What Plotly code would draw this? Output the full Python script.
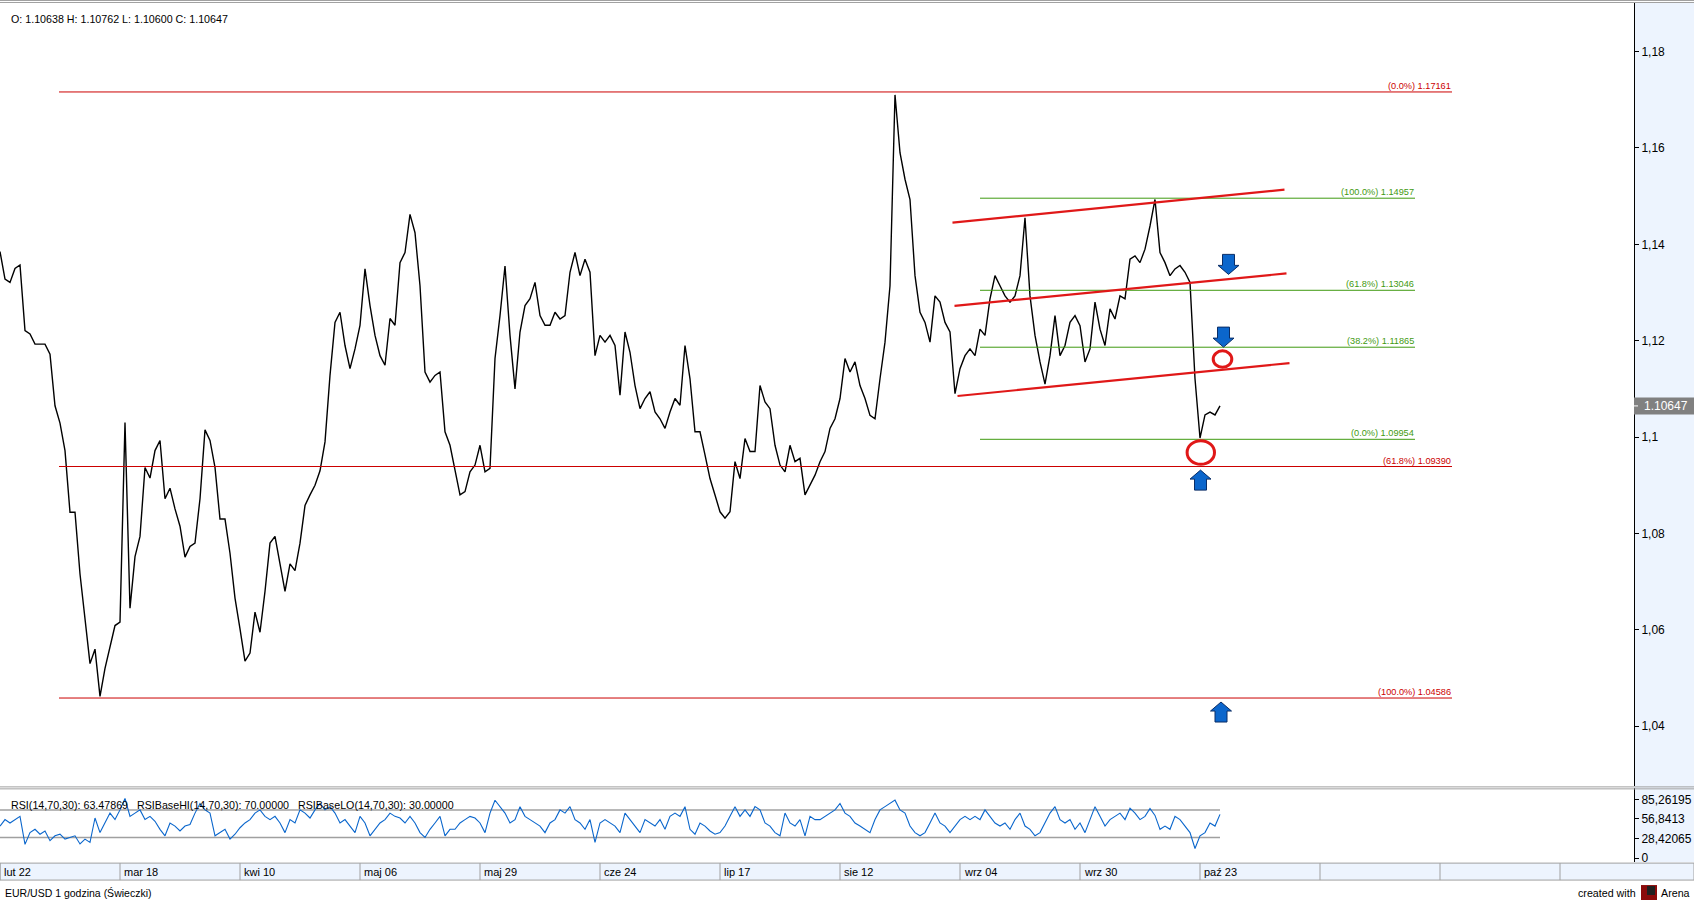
import plotly.graph_objects as go

# EUR/USD hourly, sampled every 5 px of the original chart (one value per sample)
PRICE = [
    1.1385, 1.1328, 1.1321, 1.1350, 1.1357, 1.1221, 1.1214, 1.1193, 1.1193, 1.1193,
    1.1172, 1.1065, 1.1029, 1.0972, 1.0844, 1.0844, 1.0716, 1.0623, 1.0530, 1.0560,
    1.0462, 1.0520, 1.0566, 1.0609, 1.0616, 1.1030, 1.0645, 1.0752, 1.0794, 1.0937,
    1.0915, 1.0972, 1.0993, 1.0872, 1.0894, 1.0851, 1.0815, 1.0751, 1.0773, 1.0780,
    1.0872, 1.1015, 1.0993, 1.0937, 1.0830, 1.0830, 1.0759, 1.0666, 1.0602, 1.0535,
    1.0552, 1.0637, 1.0595, 1.0680, 1.0780, 1.0794, 1.0737, 1.0680, 1.0737, 1.0723,
    1.0780, 1.0858, 1.0880, 1.0900, 1.0930, 1.0990, 1.1128, 1.1238, 1.1259, 1.1190,
    1.1142, 1.1183, 1.1232, 1.1349, 1.1273, 1.1211, 1.1169, 1.1149, 1.1246, 1.1232,
    1.1362, 1.1383, 1.1462, 1.1424, 1.1314, 1.1135, 1.1114, 1.1128, 1.1135, 1.1011,
    1.0983, 1.0935, 1.0880, 1.0887, 1.0928, 1.0942, 1.0983, 1.0928, 1.0935, 1.1163,
    1.1252, 1.1355, 1.1211, 1.1100, 1.1218, 1.1273, 1.1287, 1.1321, 1.1252, 1.1232,
    1.1232, 1.1259, 1.1245, 1.1252, 1.1342, 1.1383, 1.1335, 1.1369, 1.1342, 1.1169,
    1.1211, 1.1197, 1.1211, 1.1190, 1.1087, 1.1218, 1.1176, 1.1107, 1.1059, 1.1080,
    1.1094, 1.1052, 1.1038, 1.1018, 1.1052, 1.1080, 1.1066, 1.1190, 1.1121, 1.1011,
    1.1011, 1.0963, 1.0914, 1.0880, 1.0845, 1.0832, 1.0845, 1.0949, 1.0914, 1.0997,
    1.0970, 1.0970, 1.1107, 1.1073, 1.1059, 1.0983, 1.0942, 1.0928, 1.0983, 1.0949,
    1.0956, 1.0880, 1.0901, 1.0921, 1.0949, 1.0970, 1.1018, 1.1038, 1.1080, 1.1163,
    1.1135, 1.1156, 1.1107, 1.1080, 1.1045, 1.1038, 1.1121, 1.1197, 1.1314, 1.1710,
    1.1590, 1.1535, 1.1493, 1.1335, 1.1259, 1.1238, 1.1197, 1.1293, 1.1280, 1.1238,
    1.1218, 1.1090, 1.1142, 1.1169, 1.1183, 1.1169, 1.1224, 1.1211, 1.1287, 1.1335,
    1.1314, 1.1293, 1.1280, 1.1293, 1.1335, 1.1455, 1.1293, 1.1211, 1.1156, 1.1110,
    1.1169, 1.1252, 1.1169, 1.1190, 1.1238, 1.1252, 1.1231, 1.1156, 1.1183, 1.1280,
    1.1224, 1.1190, 1.1266, 1.1245, 1.1293, 1.1287, 1.1369, 1.1376, 1.1362, 1.1390,
    1.1438, 1.1493, 1.1383, 1.1362, 1.1335, 1.1349, 1.1356, 1.1342, 1.1321, 1.1121,
    1.0998, 1.1046, 1.1052, 1.1046, 1.10647,
]

RSI = [
    46.5, 55.9, 51.0, 56.0, 60.6, 20.0, 37.0, 41.8, 34.7, 39.4,
    25.3, 32.4, 34.7, 27.6, 30.0, 32.4, 20.6, 27.6, 22.9, 58.2,
    37.0, 51.0, 65.3, 55.9, 70.0, 86.5, 60.6, 65.3, 70.0, 56.0,
    60.6, 53.5, 41.8, 32.4, 51.0, 46.5, 39.4, 46.5, 48.8, 65.3,
    79.4, 70.0, 65.3, 32.4, 37.0, 41.8, 27.6, 34.7, 44.1, 51.0,
    55.9, 65.3, 70.0, 60.6, 55.9, 60.6, 51.0, 37.0, 55.9, 51.0,
    70.0, 65.3, 58.2, 70.0, 79.4, 70.0, 74.7, 65.3, 51.0, 55.9,
    46.5, 37.0, 60.6, 51.0, 32.4, 41.8, 51.0, 55.9, 65.3, 60.6,
    58.2, 51.0, 60.6, 51.0, 37.0, 30.0, 41.8, 51.0, 60.6, 32.4,
    41.8, 41.8, 51.0, 55.9, 60.6, 58.2, 51.0, 37.0, 65.3, 84.0,
    74.7, 65.3, 51.0, 55.9, 74.7, 60.6, 55.9, 51.0, 46.5, 37.0,
    51.0, 55.9, 70.0, 65.3, 74.7, 55.9, 51.0, 41.8, 55.9, 22.9,
    51.0, 55.9, 51.0, 46.5, 37.0, 65.3, 55.9, 46.5, 37.0, 55.9,
    51.0, 46.5, 55.9, 41.8, 60.6, 65.3, 60.6, 74.7, 41.8, 34.7,
    51.0, 46.5, 39.4, 34.7, 37.0, 46.5, 60.6, 74.7, 60.6, 70.0,
    60.6, 74.7, 70.0, 51.0, 46.5, 37.0, 32.4, 65.3, 51.0, 46.5,
    55.9, 32.4, 60.6, 55.9, 55.9, 60.6, 65.3, 70.0, 79.4, 65.3,
    60.6, 51.0, 46.5, 41.8, 37.0, 55.9, 70.0, 74.7, 79.4, 84.1,
    70.0, 65.3, 46.5, 37.0, 32.4, 37.0, 51.0, 65.3, 51.0, 46.5,
    37.0, 46.5, 55.9, 60.6, 55.9, 60.6, 55.9, 70.0, 60.6, 51.0,
    46.5, 51.0, 41.8, 55.9, 65.3, 46.5, 41.8, 32.4, 37.0, 51.0,
    65.3, 74.7, 55.9, 51.0, 55.9, 41.8, 51.0, 37.0, 55.9, 74.7,
    60.6, 46.5, 55.9, 60.6, 65.3, 55.9, 72.4, 65.3, 55.9, 60.6,
    72.0, 62.0, 41.8, 46.5, 41.8, 60.6, 55.9, 46.5, 37.0, 14.0,
    32.4, 37.0, 51.0, 46.5, 63.5,
]

RSI_HI = 70
RSI_LO = 30

DATE_LABELS = ["lut 22", "mar 18", "kwi 10", "maj 06", "maj 29", "cze 24",
               "lip 17", "sie 12", "wrz 04", "wrz 30", "paź 23"]
SAMPLES_PER_CELL = 24

PRICE_TICKS = [1.04, 1.06, 1.08, 1.10, 1.12, 1.14, 1.16, 1.18]
PRICE_TICK_TEXT = ["1,04", "1,06", "1,08", "1,1", "1,12", "1,14", "1,16", "1,18"]
RSI_TICKS = [85.26195, 56.8413, 28.42065, 0]
RSI_TICK_TEXT = ["85,26195", "56,8413", "28,42065", "0"]

# Fibonacci retracements: (percent label, level)
FIB_RED = [("(0.0%)", 1.17161), ("(61.8%)", 1.09390), ("(100.0%)", 1.04586)]
FIB_GREEN = [("(100.0%)", 1.14957), ("(61.8%)", 1.13046), ("(38.2%)", 1.11865), ("(0.0%)", 1.09954)]

# channel lines drawn on the chart: (start sample, start price, end sample, end price)
CHANNEL = [
    (190.5, 1.14451, 256.9, 1.15134),
    (190.9, 1.12721, 257.3, 1.13397),
    (191.5, 1.10853, 257.9, 1.11536),
]

ARROWS_DOWN = [(245.7, 1.13376), (244.7, 1.11867)]
ARROWS_UP = [(240.1, 1.09315), (244.2, 1.04503)]
# circles: (centre sample, centre price, half width in samples, half height in price)
CIRCLES = [(244.5, 1.11619, 1.86, 0.0017), (240.16, 1.09681, 2.74, 0.00244)]

LAST = 1.10647
HEADER = "O: 1.10638 H: 1.10762 L: 1.10600 C: 1.10647"
RSI_TEXT = ("RSI(14,70,30): 63.47869   RSIBaseHI(14,70,30): 70.00000   "
            "RSIBaseLO(14,70,30): 30.00000")

W, H = 1694, 903
FONT = "Liberation Sans"
AX_X = 1634 / W


def py(px):
    return 1 - px / H


def pxx(px):
    return px / W


xs = list(range(len(PRICE)))

fig = go.Figure()
fig.add_trace(go.Scatter(x=xs, y=PRICE, mode="lines", line=dict(color="black", width=1.4),
                         xaxis="x", yaxis="y", hoverinfo="skip"))
fig.add_trace(go.Scatter(x=[0, len(RSI) - 1], y=[RSI_HI, RSI_HI], mode="lines",
                         line=dict(color="#a0a0a0", width=1.5), xaxis="x2", yaxis="y2"))
fig.add_trace(go.Scatter(x=[0, len(RSI) - 1], y=[RSI_LO, RSI_LO], mode="lines",
                         line=dict(color="#a0a0a0", width=1.5), xaxis="x2", yaxis="y2"))
fig.add_trace(go.Scatter(x=list(range(len(RSI))), y=RSI, mode="lines",
                         line=dict(color="#0a66cc", width=1.1), xaxis="x2", yaxis="y2"))

shapes = []
annotations = []

# right axis panel background
shapes.append(dict(type="rect", xref="paper", yref="paper", x0=AX_X, x1=1, y0=py(865), y1=py(3),
                   fillcolor="#edf4fe", line=dict(width=0), layer="below"))

# fib levels
for label, lvl in FIB_RED:
    shapes.append(dict(type="line", xref="x", yref="y", x0=11.8, x1=290.4, y0=lvl, y1=lvl,
                       line=dict(color="#cc0000", width=1)))
    annotations.append(dict(x=290.4, y=lvl, xref="x", yref="y", xanchor="right", yanchor="bottom",
                            text=f"{label} {lvl:.5f}", showarrow=False, borderpad=0,
                            font=dict(family=FONT, size=9.2, color="#cc0000")))
for label, lvl in FIB_GREEN:
    shapes.append(dict(type="line", xref="x", yref="y", x0=196, x1=283, y0=lvl, y1=lvl,
                       line=dict(color="#3f9a10", width=1)))
    annotations.append(dict(x=283, y=lvl, xref="x", yref="y", xanchor="right", yanchor="bottom",
                            text=f"{label} {lvl:.5f}", showarrow=False, borderpad=0,
                            font=dict(family=FONT, size=9.2, color="#3f9a10")))

for x0, y0, x1, y1 in CHANNEL:
    shapes.append(dict(type="line", xref="x", yref="y", x0=x0, y0=y0, x1=x1, y1=y1,
                       line=dict(color="#e01818", width=2.2)))

for cx, cy, rx, ry in CIRCLES:
    shapes.append(dict(type="circle", xref="x", yref="y", x0=cx - rx, x1=cx + rx,
                       y0=cy - ry, y1=cy + ry, line=dict(color="#e01818", width=3)))

down_path = "M0,0 L-10.5,9 L-6,9 L-6,20 L6,20 L6,9 L10.5,9 Z"
up_path = "M0,0 L-10.5,-9 L-6,-9 L-6,-20 L6,-20 L6,-9 L10.5,-9 Z"
for ax_, ay_ in ARROWS_DOWN:
    shapes.append(dict(type="path", xref="x", yref="y", xsizemode="pixel", ysizemode="pixel",
                       xanchor=ax_, yanchor=ay_, path=down_path,
                       fillcolor="#0b66cc", line=dict(color="#0a2d66", width=1)))
for ax_, ay_ in ARROWS_UP:
    shapes.append(dict(type="path", xref="x", yref="y", xsizemode="pixel", ysizemode="pixel",
                       xanchor=ax_, yanchor=ay_, path=up_path,
                       fillcolor="#0b66cc", line=dict(color="#0a2d66", width=1)))

# last price tag on the axis
shapes.append(dict(type="rect", xref="paper", yref="y", ysizemode="pixel", yanchor=LAST,
                   x0=AX_X, x1=1, y0=-8.5, y1=8.5, fillcolor="#808080", line=dict(width=0)))
shapes.append(dict(type="line", xref="paper", yref="y", x0=AX_X, x1=pxx(1638), y0=LAST, y1=LAST,
                   line=dict(color="white", width=1)))
annotations.append(dict(x=pxx(1642), y=LAST, xref="paper", yref="y", xanchor="left", yanchor="middle",
                        text=f"{LAST:.5f}", showarrow=False,
                        font=dict(family=FONT, size=12, color="white")))

# frame lines
for yy in (0.5, 2.5, 789.5, 791.5):
    shapes.append(dict(type="line", xref="paper", yref="paper", x0=0, x1=1, y0=py(yy), y1=py(yy),
                       line=dict(color="#a0a0a0", width=1)))

# date bar
shapes.append(dict(type="rect", xref="paper", yref="paper", x0=0, x1=1, y0=py(883), y1=py(866),
                   fillcolor="#edf4fe", line=dict(color="#a0a0a0", width=1)))
for k in range(14):
    shapes.append(dict(type="line", xref="x", yref="paper", x0=k * SAMPLES_PER_CELL,
                       x1=k * SAMPLES_PER_CELL, y0=py(883), y1=py(866),
                       line=dict(color="#a0a0a0", width=1)))
for k, lab in enumerate(DATE_LABELS):
    annotations.append(dict(x=k * SAMPLES_PER_CELL, y=py(874.5), xref="x", yref="paper",
                            xanchor="left", yanchor="middle", xshift=2, text=lab, showarrow=False,
                            font=dict(family=FONT, size=11, color="black")))

# texts
annotations.append(dict(x=pxx(9), y=py(19), xref="paper", yref="paper", xanchor="left",
                        yanchor="middle", text=HEADER, showarrow=False,
                        font=dict(family=FONT, size=10.7, color="black")))
annotations.append(dict(x=pxx(9), y=py(808), xref="paper", yref="paper", xanchor="left",
                        yanchor="middle", text=RSI_TEXT, showarrow=False,
                        font=dict(family=FONT, size=10.7, color="black")))
annotations.append(dict(x=pxx(3), y=py(896), xref="paper", yref="paper", xanchor="left",
                        yanchor="middle", text="EUR/USD 1 godzina (Świeczki)", showarrow=False,
                        font=dict(family=FONT, size=10.5, color="black")))
annotations.append(dict(x=pxx(1638), y=py(896), xref="paper", yref="paper", xanchor="right",
                        yanchor="middle", text="created with", showarrow=False,
                        font=dict(family=FONT, size=10.7, color="black")))
annotations.append(dict(x=pxx(1659), y=py(896), xref="paper", yref="paper", xanchor="left",
                        yanchor="middle", text="Arena", showarrow=False,
                        font=dict(family=FONT, size=10.7, color="black")))
shapes.append(dict(type="rect", xref="paper", yref="paper", x0=pxx(1641), x1=pxx(1657),
                   y0=py(903), y1=py(888), fillcolor="#8b0a0a", line=dict(width=0)))
shapes.append(dict(type="rect", xref="paper", yref="paper", x0=pxx(1647), x1=pxx(1655),
                   y0=py(898), y1=py(889), fillcolor="#202020", line=dict(width=0)))

axis_common = dict(showgrid=False, zeroline=False, side="right", ticks="outside", ticklen=4,
                   tickcolor="black", showline=True, linecolor="black", linewidth=1,
                   tickfont=dict(family=FONT, size=12, color="black"))

fig.update_layout(
    width=W, height=H,
    margin=dict(l=0, r=0, t=0, b=0),
    paper_bgcolor="white", plot_bgcolor="white",
    showlegend=False,
    xaxis=dict(domain=[0, AX_X], range=[0, 1634 / 5], visible=False, anchor="y"),
    xaxis2=dict(domain=[0, AX_X], range=[0, 1634 / 5], visible=False, anchor="y2", matches="x"),
    yaxis=dict(domain=[py(789), py(3)], range=[1.02753, 1.19007], anchor="x",
               tickvals=PRICE_TICKS, ticktext=PRICE_TICK_TEXT, **axis_common),
    yaxis2=dict(domain=[py(865), py(791)], range=[-5.8, 101.2], anchor="x2",
                tickvals=RSI_TICKS, ticktext=RSI_TICK_TEXT, **axis_common),
    shapes=shapes,
    annotations=annotations,
)

fig.write_html("out.html", config={"displayModeBar": False},
               post_script="document.body.style.margin='0';")
